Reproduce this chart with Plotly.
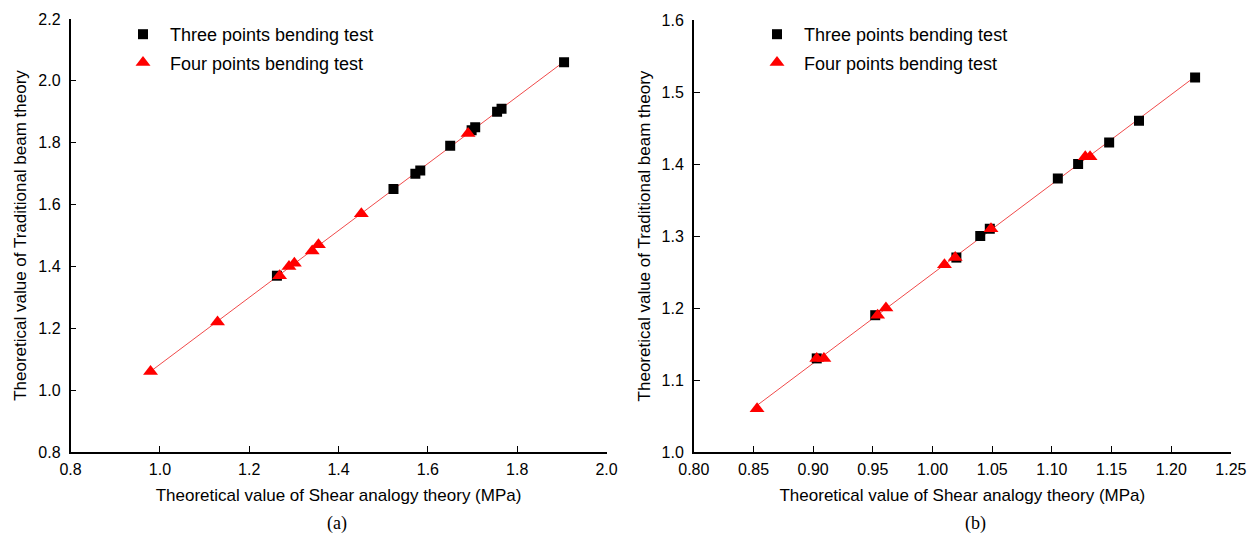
import numpy as np
import plotly.graph_objects as go

# ---------------- data: panel (a) ----------------
a_three_x = [1.905, 1.765, 1.755, 1.706, 1.698, 1.650, 1.583, 1.572, 1.523, 1.262]
a_three_y = [2.06, 1.91, 1.90, 1.85, 1.84, 1.79, 1.71, 1.70, 1.65, 1.37]
a_four_x = [1.690, 1.451, 1.355, 1.341, 1.301, 1.289, 1.268, 1.129, 0.979]
a_four_y = [1.83, 1.57, 1.47, 1.45, 1.41, 1.40, 1.37, 1.22, 1.06]

# ---------------- data: panel (b) ----------------
b_three_x = [1.220, 1.173, 1.148, 1.122, 1.105, 1.048, 1.040, 1.020, 0.952, 0.903]
b_three_y = [1.52, 1.46, 1.43, 1.40, 1.38, 1.31, 1.30, 1.27, 1.19, 1.13]
b_four_x = [1.132, 1.128, 1.049, 1.019, 1.010, 0.961, 0.954, 0.909, 0.903, 0.853]
b_four_y = [1.41, 1.41, 1.31, 1.27, 1.26, 1.20, 1.19, 1.13, 1.13, 1.06]

a_xticks = [0.8, 1.0, 1.2, 1.4, 1.6, 1.8, 2.0]
a_yticks = [0.8, 1.0, 1.2, 1.4, 1.6, 1.8, 2.0, 2.2]
b_xticks = [0.80, 0.85, 0.90, 0.95, 1.00, 1.05, 1.10, 1.15, 1.20, 1.25]
b_yticks = [1.0, 1.1, 1.2, 1.3, 1.4, 1.5, 1.6]

label_three = "Three points bending test"
label_four = "Four points bending test"
x_title = "Theoretical value of Shear analogy theory (MPa)"
y_title = "Theoretical value of Traditional beam theory"

W, H = 1255, 541
FONT = "Liberation Sans, Arial, sans-serif"
SERIF = "Liberation Serif, Times New Roman, serif"


def fit_line(xs_list, ys_list):
    xs = np.array(xs_list[0] + xs_list[1])
    ys = np.array(ys_list[0] + ys_list[1])
    k, b = np.polyfit(xs, ys, 1)
    xx = np.array([xs.min(), xs.max()])
    return xx, k * xx + b


fig = go.Figure()

# panel (a)
lx, ly = fit_line([a_three_x, a_four_x], [a_three_y, a_four_y])
fig.add_trace(go.Scatter(x=lx, y=ly, mode="lines", line=dict(color="#f04a4a", width=1),
                         showlegend=False, xaxis="x", yaxis="y", hoverinfo="skip"))
fig.add_trace(go.Scatter(x=a_three_x, y=a_three_y, mode="markers", name=label_three,
                         marker=dict(symbol="square", size=10, color="black"),
                         xaxis="x", yaxis="y", legend="legend", legendgroup="a3"))
fig.add_trace(go.Scatter(x=a_four_x, y=a_four_y, mode="markers", name=label_four,
                         marker=dict(symbol="triangle-up", size=13, color="#ff0000"),
                         xaxis="x", yaxis="y", legend="legend", legendgroup="a4"))

# panel (b)
lx, ly = fit_line([b_three_x, b_four_x], [b_three_y, b_four_y])
fig.add_trace(go.Scatter(x=lx, y=ly, mode="lines", line=dict(color="#f04a4a", width=1),
                         showlegend=False, xaxis="x2", yaxis="y2", hoverinfo="skip"))
fig.add_trace(go.Scatter(x=b_three_x, y=b_three_y, mode="markers", name=label_three,
                         marker=dict(symbol="square", size=10, color="black"),
                         xaxis="x2", yaxis="y2", legend="legend2", legendgroup="b3"))
fig.add_trace(go.Scatter(x=b_four_x, y=b_four_y, mode="markers", name=label_four,
                         marker=dict(symbol="triangle-up", size=13, color="#ff0000"),
                         xaxis="x2", yaxis="y2", legend="legend2", legendgroup="b4"))

ybot = 1 - 452 / H
axis_common = dict(showline=True, linecolor="black", linewidth=1.6, mirror=False,
                   ticks="inside", ticklen=6, tickwidth=1.2, tickcolor="black",
                   showgrid=False, zeroline=False, automargin=False,
                   tickfont=dict(family=FONT, size=16, color="black"),
                   title_font=dict(family=FONT, size=17, color="black"))

fig.update_layout(
    width=W, height=H,
    margin=dict(l=0, r=0, t=0, b=0),
    paper_bgcolor="white", plot_bgcolor="white",
    font=dict(family=FONT, color="black"),
    xaxis=dict(domain=[70.6 / W, 606.5 / W], range=[0.8, 2.0], tickvals=a_xticks,
               tickformat=".1f", anchor="y", ticklabelstandoff=2,
               title=dict(text=x_title, standoff=12), **axis_common),
    yaxis=dict(domain=[ybot, 1 - 19 / H], range=[0.8, 2.2], tickvals=a_yticks,
               tickformat=".1f", anchor="x", ticklabelstandoff=5,
               title=dict(text=y_title, standoff=7), **axis_common),
    xaxis2=dict(domain=[693.8 / W, 1230.9 / W], range=[0.80, 1.25], tickvals=b_xticks,
                tickformat=".2f", anchor="y2", ticklabelstandoff=2,
                title=dict(text=x_title, standoff=12), **axis_common),
    yaxis2=dict(domain=[ybot, 1 - 20 / H], range=[1.0, 1.6], tickvals=b_yticks,
                tickformat=".1f", anchor="x2", ticklabelstandoff=5,
                title=dict(text=y_title, standoff=7), **axis_common),
    legend=dict(x=116 / W, y=1 - 16 / H, xanchor="left", yanchor="top",
                bgcolor="rgba(0,0,0,0)", font=dict(family=FONT, size=18, color="black"),
                traceorder="grouped", tracegroupgap=2, itemwidth=44),
    legend2=dict(x=750 / W, y=1 - 16 / H, xanchor="left", yanchor="top",
                 bgcolor="rgba(0,0,0,0)", font=dict(family=FONT, size=18, color="black"),
                 traceorder="grouped", tracegroupgap=2, itemwidth=44),
    annotations=[
        dict(text="(a)", x=337 / W, y=1 - 523 / H, xref="paper", yref="paper",
             xanchor="center", yanchor="middle",
             showarrow=False, font=dict(family=SERIF, size=18, color="black")),
        dict(text="(b)", x=975 / W, y=1 - 523 / H, xref="paper", yref="paper",
             xanchor="center", yanchor="middle",
             showarrow=False, font=dict(family=SERIF, size=18, color="black")),
    ],
)

fig.write_html("out.html", config={"displayModeBar": False},
               post_script="document.body.style.margin='0';document.body.style.overflow='hidden';")
